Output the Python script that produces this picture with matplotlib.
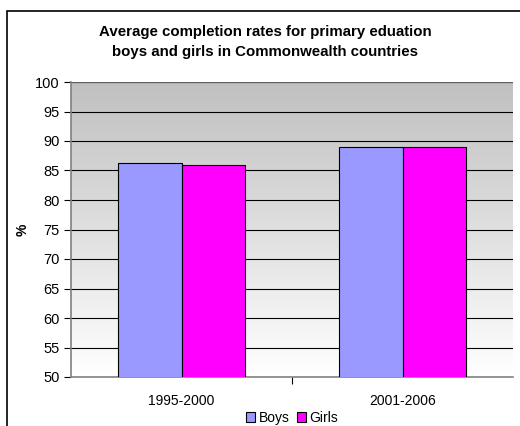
import numpy as np
import matplotlib
matplotlib.use("Agg")
import matplotlib.pyplot as plt
from matplotlib.patches import Rectangle

plt.rcParams['font.family'] = ['Liberation Sans', 'DejaVu Sans']

periods = ['1995-2000', '2001-2006']
boys = [86.3, 89.0]
girls = [86.0, 89.0]
yticks = list(range(50, 101, 5))

W, H = 520, 426
fig = plt.figure(figsize=(W / 100, H / 100), dpi=100)

# chart frame, runs off the right and bottom edges
fig.patches.append(Rectangle((7 / W, -0.1), 1.2, 1 - 11 / H + 0.1,
                             transform=fig.transFigure, fill=False,
                             edgecolor='black', linewidth=1.2))

ax = fig.add_axes([71 / W, 1 - 377 / H, (513 - 71) / W, (377 - 82) / H])

# grey-to-white gradient behind the bars (grey at the top)
grad = np.linspace(0, 1, 256).reshape(-1, 1)
ax.imshow(grad, cmap=matplotlib.colors.LinearSegmentedColormap.from_list(
    'bg', ['#c0c0c0', '#ffffff']), aspect='auto', origin='upper',
    extent=[-0.5, 1.5, 50, 100], zorder=0, interpolation='bicubic')

x = np.arange(len(periods))
w = 0.2875
ax.bar(x - w / 2, boys, w, bottom=0, color='#9999ff', edgecolor='black',
       linewidth=0.8, label='Boys', zorder=3)
ax.bar(x + w / 2, girls, w, bottom=0, color='#ff00ff', edgecolor='black',
       linewidth=0.8, label='Girls', zorder=3)

ax.set_xlim(-0.5, 1.5)
ax.set_ylim(50, 100)
ax.set_yticks(yticks)
ax.tick_params(axis='y', direction='out', length=5, width=0.8,
               labelsize=10.5, colors='black', pad=3)
for t in yticks[1:-1]:
    ax.axhline(t, color='black', linewidth=0.8, zorder=2)
ax.axhline(100, color='#606060', linewidth=1.0, zorder=2)

ax.set_xticks(x)
ax.set_xticklabels(periods, fontsize=10)
ax.tick_params(axis='x', length=0, pad=12)
ax.set_xticks([0.5], minor=True)
ax.tick_params(axis='x', which='minor', direction='out', length=5, width=0.8)

for side in ['top', 'right']:
    ax.spines[side].set_visible(False)
ax.spines['left'].set_color('#808080')
ax.spines['bottom'].set_color('#808080')
ax.spines['left'].set_linewidth(1.2)
ax.spines['bottom'].set_linewidth(1.2)

ax.set_ylabel('%', fontsize=10, fontweight='bold', labelpad=4)

fig.text(265 / W, 1 - 42 / H,
         'Average completion rates for primary eduation\n'
         'boys and girls in Commonwealth countries',
         ha='center', va='center', fontsize=10.8, fontweight='bold',
         linespacing=1.5)

fig.legend(loc='center', bbox_to_anchor=(292 / W, 1 - 418 / H), ncol=2,
           frameon=False, fontsize=10, handlelength=0.65, handleheight=0.65,
           handletextpad=0.3, columnspacing=0.5, borderpad=0)

fig.savefig('out.png', dpi=100)
